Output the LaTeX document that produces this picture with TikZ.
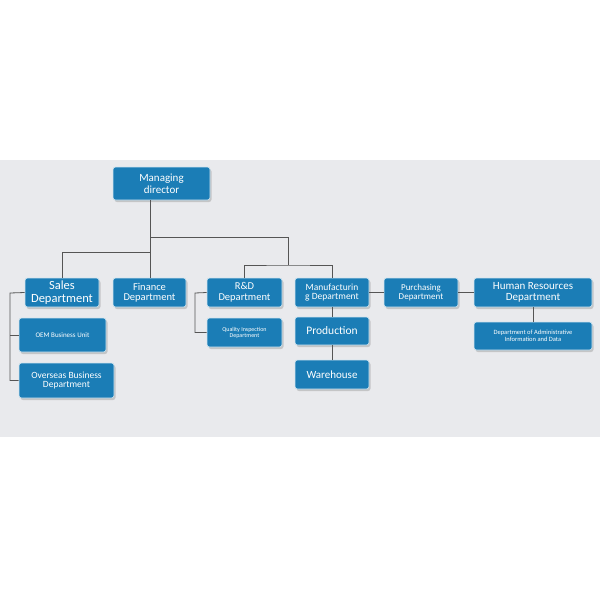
\documentclass[tikz,border=0pt]{standalone}
\usepackage{fontspec}
\setmainfont{Carlito}
\usetikzlibrary{shadows}
\definecolor{boxblue}{HTML}{1B7DB6}
\definecolor{band}{HTML}{E9EAED}
\definecolor{ln}{HTML}{555555}
\begin{document}
\begin{tikzpicture}[x=1pt,y=-1pt,
  bx/.style={draw=white!80!boxblue,line width=0.6pt,fill=boxblue,rounded corners=2.5pt,text=white,align=center,inner sep=0pt,
    drop shadow={shadow xshift=1.5pt,shadow yshift=-2pt,opacity=0.35}},
  ln/.style={draw=ln,line width=0.8pt}]
\useasboundingbox (0,0) rectangle (600,600);
\fill[white] (0,0) rectangle (600,600);
\fill[band] (0,160) rectangle (600,437);
\newcommand{\bx}[6]{\node[bx,minimum width=#3-#2,minimum height=#5-#4,font=\fontsize{#6}{#6}\selectfont] (#1) at ({(#2+#3)/2},{(#4+#5)/2})}
\bx{md}{113}{210}{167}{200}{11}{Managing\\[1pt]director};
\bx{sales}{25}{99}{278}{307}{12.5}{Sales\\Department};
\bx{fin}{113}{186}{278}{307}{10.5}{Finance\\Department};
\bx{rd}{207}{282}{278}{307}{10.5}{R\&D\\Department};
\bx{man}{295}{369}{278}{307}{9.5}{Manufacturin\\g Department};
\bx{pur}{384}{458}{278}{307}{9}{Purchasing\\Department};
\bx{hr}{474}{592}{278}{307}{11}{Human Resources\\Department};
\bx{oem}{19}{106}{318}{352}{7}{OEM Business Unit};
\bx{ovs}{19}{114}{363}{398}{9.5}{Overseas Business\\Department};
\bx{qi}{207}{282}{318}{347}{6}{Quality Inspection\\Department};
\bx{prod}{295}{369}{317}{345}{11.5}{Production};
\bx{wh}{295}{369}{360}{389}{11}{Warehouse};
\bx{adm}{474}{592}{322}{350}{6.5}{Department of Administrative\\Information and Data};
\coordinate (j1) at (150,237);
\coordinate (j2) at (150,252);
\coordinate (j3) at (288,265);
\begin{scope}[on background layer/.try]
\draw[ln] (md.south -| j1) -- (fin.north -| j1);
\draw[ln] (j1) -| (j3);
\draw[ln] (j2) -| (sales.north -| 62,0);
\draw[ln] (rd.north) |- (j3) -| (man.north);
\draw[ln] (sales.west) -- (10,293) |- (ovs.west);
\draw[ln] (10,335) -- (oem.west);
\draw[ln] (rd.west) -- (195,293) |- (qi.west);
\draw[ln] (man.south) -- (prod.north);
\draw[ln] (prod.south) -- (wh.north);
\draw[ln] (man.east) -- (pur.west);
\draw[ln] (pur.east) -- (hr.west);
\draw[ln] (hr.south) -- (adm.north);
\end{scope}
\end{tikzpicture}
\end{document}
